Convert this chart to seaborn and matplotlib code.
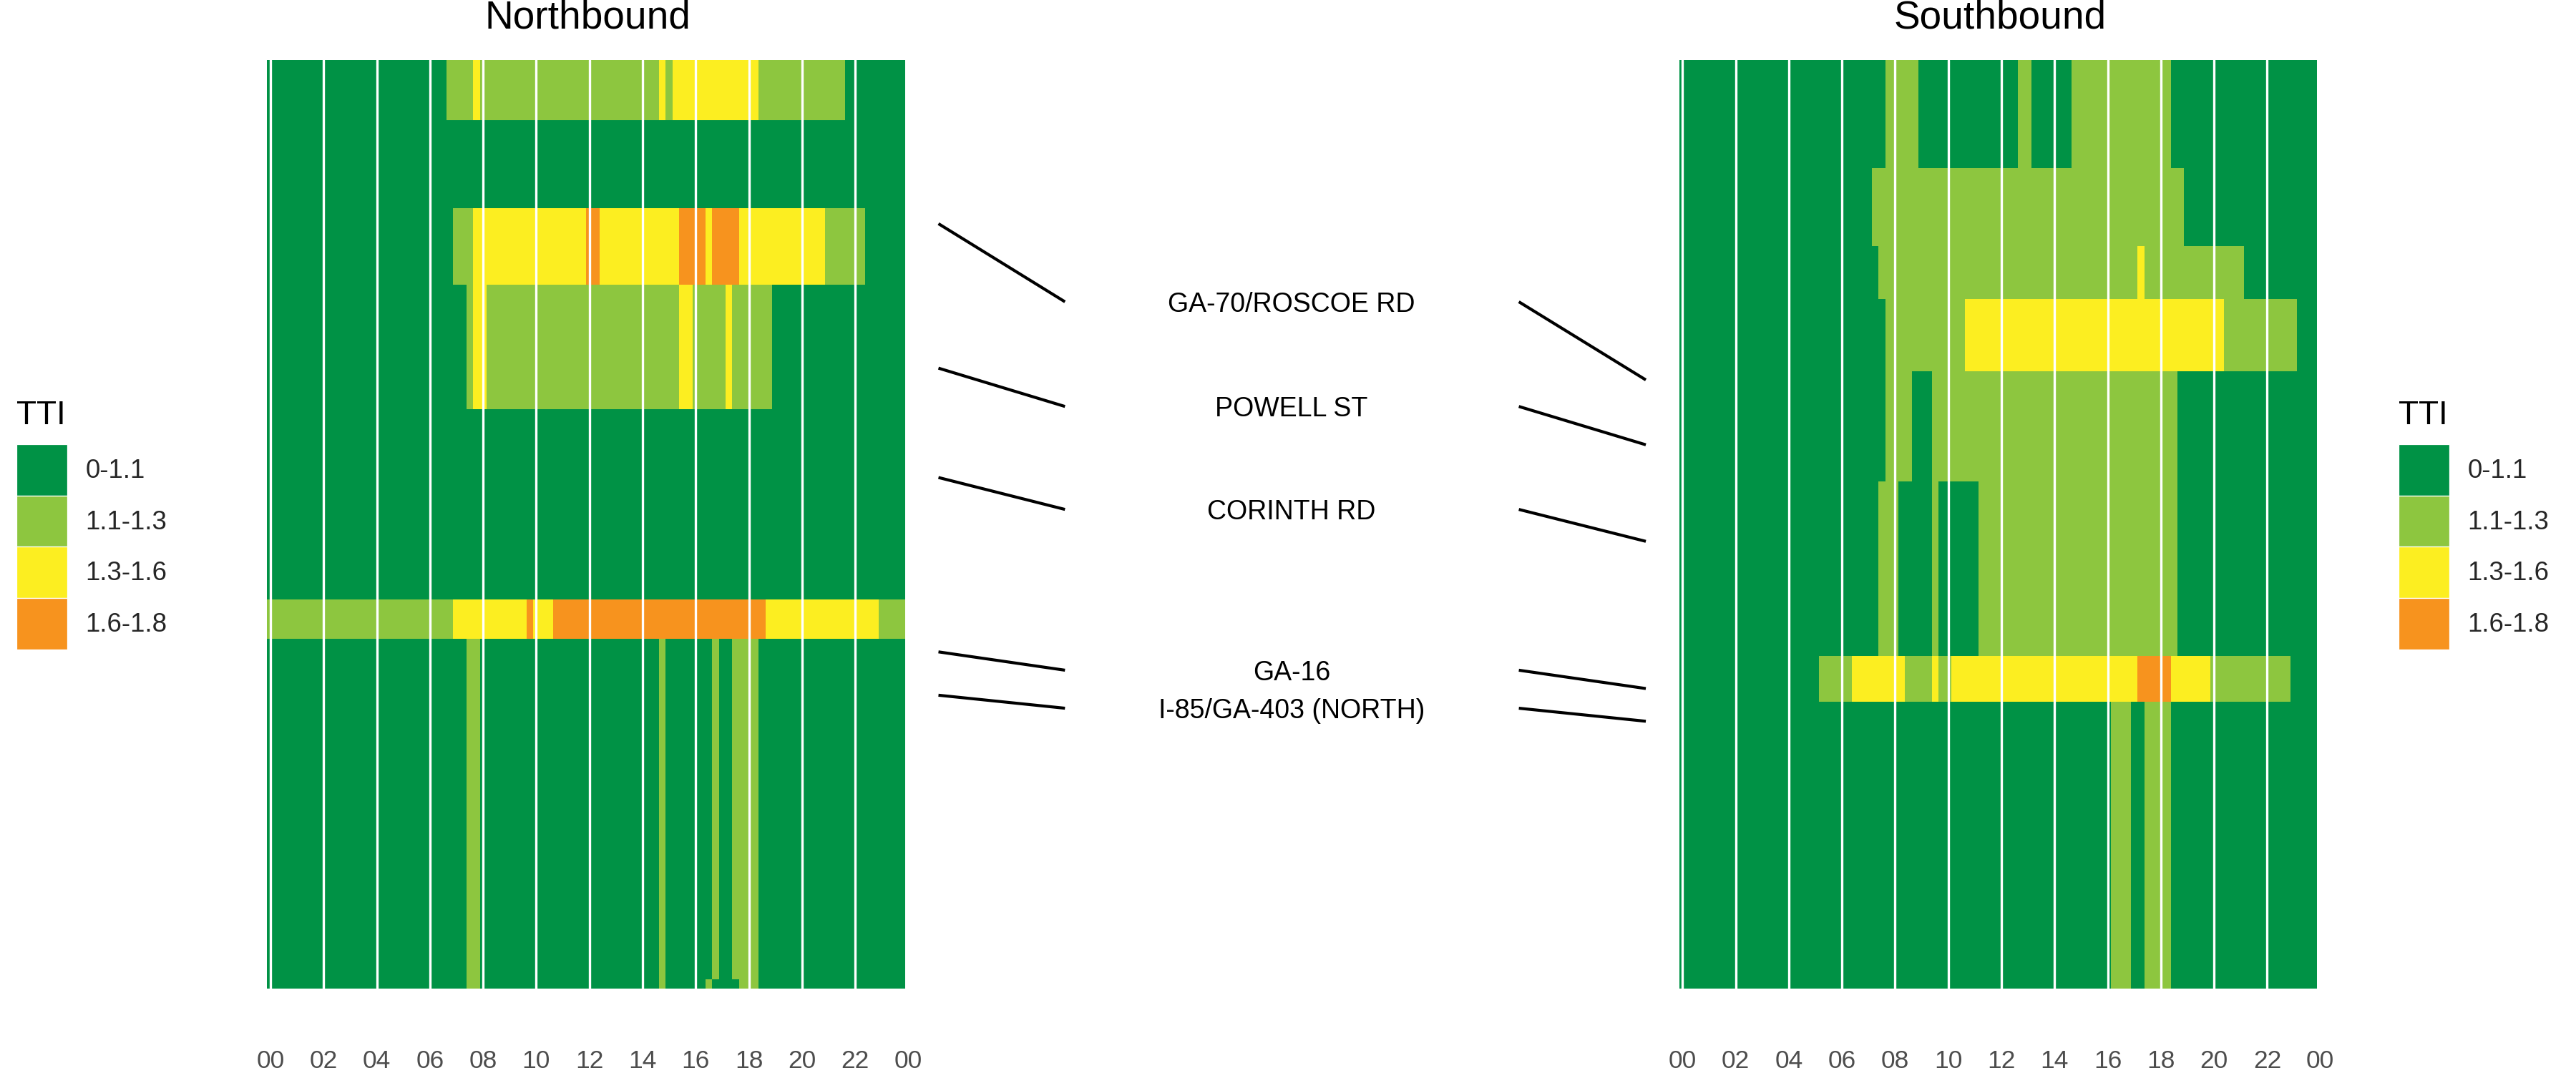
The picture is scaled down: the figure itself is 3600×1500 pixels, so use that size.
import numpy as np
import matplotlib
matplotlib.use('Agg')
import matplotlib.pyplot as plt
from matplotlib.colors import ListedColormap
from matplotlib.patches import Patch
import seaborn as sns

# TTI classes
tti_labels = ['0-1.1', '1.1-1.3', '1.3-1.6', '1.6-1.8']
tti_colors = ['#009245', '#8DC63F', '#FCEE21', '#F7931E']

# 15 minute bins (hour of day)
times = np.arange(0, 24, 0.25)
hour_ticks = list(range(0, 25, 2))
hour_labels = ['00', '02', '04', '06', '08', '10', '12', '14', '16', '18', '20', '22', '00']

# Northbound segments: edges in miles from top, and class changes (start time, class)
nb_length = 18.0
nb_edges = [0, 1.16, 2.87, 4.35, 6.77, 10.45, 11.22, 17.81, 18.0]
nb_runs = [
    [(0, 0), (6.75, 1), (7.75, 2), (8.0, 1), (14.75, 2), (15.0, 1), (15.25, 2), (18.5, 1), (21.75, 0)],
    [(0, 0)],
    [(0, 0), (7.0, 1), (7.75, 2), (12.0, 3), (12.5, 2), (15.5, 3), (16.5, 2), (16.75, 3), (17.75, 2), (21.0, 1), (22.5, 0)],
    [(0, 0), (7.5, 1), (7.75, 2), (8.25, 1), (15.5, 2), (16.0, 1), (17.25, 2), (17.5, 1), (19.0, 0)],
    [(0, 0)],
    [(0, 1), (7.0, 2), (9.75, 3), (10.0, 2), (10.75, 3), (18.75, 2), (23.0, 1)],
    [(0, 0), (7.5, 1), (8.0, 0), (14.75, 1), (15.0, 0), (16.75, 1), (17.0, 0), (17.5, 1), (18.5, 0)],
    [(0, 0), (7.5, 1), (8.0, 0), (14.75, 1), (15.0, 0), (16.5, 1), (16.75, 0), (17.75, 1), (18.5, 0)],
]

# Southbound segments
sb_length = 17.6
sb_edges = [0, 2.05, 3.52, 4.53, 5.90, 7.98, 11.29, 12.16, 17.6]
sb_runs = [
    [(0, 0), (7.75, 1), (9.0, 0), (12.75, 1), (13.25, 0), (14.75, 1), (18.5, 0)],
    [(0, 0), (7.25, 1), (19.0, 0)],
    [(0, 0), (7.5, 1), (17.25, 2), (17.5, 1), (21.25, 0)],
    [(0, 0), (7.75, 1), (10.75, 2), (20.5, 1), (23.25, 0)],
    [(0, 0), (7.75, 1), (8.75, 0), (9.5, 1), (18.75, 0)],
    [(0, 0), (7.5, 1), (8.25, 0), (9.5, 1), (9.75, 0), (11.25, 1), (18.75, 0)],
    [(0, 0), (5.25, 1), (6.5, 2), (8.5, 1), (9.5, 2), (9.75, 1), (10.25, 2), (17.25, 3), (18.5, 2), (20.0, 1), (23.0, 0)],
    [(0, 0), (16.25, 1), (17.0, 0), (17.5, 1), (18.5, 0)],
]

# interchanges (miles from top in each direction)
interchanges = ['GA-70/ROSCOE RD', 'POWELL ST', 'CORINTH RD', 'GA-16', 'I-85/GA-403 (NORTH)']
nb_exits = [3.17, 5.97, 8.09, 11.47, 12.31]
sb_exits = [6.06, 7.29, 9.12, 11.91, 12.53]


def expand(runs):
    row = np.zeros(len(times), dtype=int)
    for start, cls in runs:
        row[times >= start] = cls
    return row


sns.set_theme(style='white')
plt.rcParams['font.family'] = ['Liberation Sans', 'DejaVu Sans']

cmap = ListedColormap(tti_colors)
x_edges = np.append(times, 24) - 0.125

fig = plt.figure(figsize=(12, 5), dpi=300)
ax_nb = fig.add_axes([0.10372, 0.07853, 0.24889, 0.86540])
ax_sb = fig.add_axes([0.65186, 0.07853, 0.24889, 0.86540])
ax_mid = fig.add_axes([0.35261, 0.07853, 0.29925, 0.86540])

for ax, edges, runs, length, title in [(ax_nb, nb_edges, nb_runs, nb_length, 'Northbound'),
                                        (ax_sb, sb_edges, sb_runs, sb_length, 'Southbound')]:
    grid = np.array([expand(r) for r in runs])
    ax.pcolormesh(x_edges, edges, grid, cmap=cmap, vmin=-0.5, vmax=3.5)
    for h in hour_ticks[:-1]:
        ax.axvline(h, color='white', lw=0.8)
    ax.set_xlim(-0.125, 24)
    ax.set_ylim(length, 0)
    ax.set_xticks(hour_ticks)
    ax.set_xticklabels(hour_labels)
    ax.tick_params(axis='x', length=0, pad=20.4, labelsize=8.5, labelcolor='#4D4D4D')
    ax.set_yticks([])
    ax.set_title(title, fontsize=13.2, pad=10.6, color='black')
    sns.despine(ax=ax, left=True, bottom=True)

# middle panel: interchange names with connectors
ax_mid.set_xlim(0, 1)
ax_mid.set_ylim(1, 0)
ax_mid.axis('off')
for name, n, s in zip(interchanges, nb_exits, sb_exits):
    yn = n / nb_length
    ys = s / sb_length
    ym = (yn + ys) / 2
    ax_mid.plot([0.0391, 0.2032], [yn, ym], color='black', lw=1.0, solid_capstyle='butt')
    ax_mid.plot([0.7920, 0.9567], [ym, ys], color='black', lw=1.0, solid_capstyle='butt')
    ax_mid.text(0.497, ym, name, ha='center', va='center_baseline', fontsize=9, color='black')

# legends on both sides
handles = [Patch(facecolor=c, edgecolor='white', linewidth=0.3) for c in tti_colors]
for x0 in [23 / 3600, 3352 / 3600]:
    fig.legend(handles, tti_labels, loc='upper left', bbox_to_anchor=(x0, 1 - 621 / 1500),
               frameon=False, fontsize=8.8, handlelength=1.94, handleheight=2.633,
               labelspacing=0, handletextpad=0.69, borderpad=0, borderaxespad=0)
    fig.text(x0, 1 - 593 / 1500, 'TTI', fontsize=11, va='baseline', ha='left', color='black')

fig.savefig('out.png', dpi=300)
